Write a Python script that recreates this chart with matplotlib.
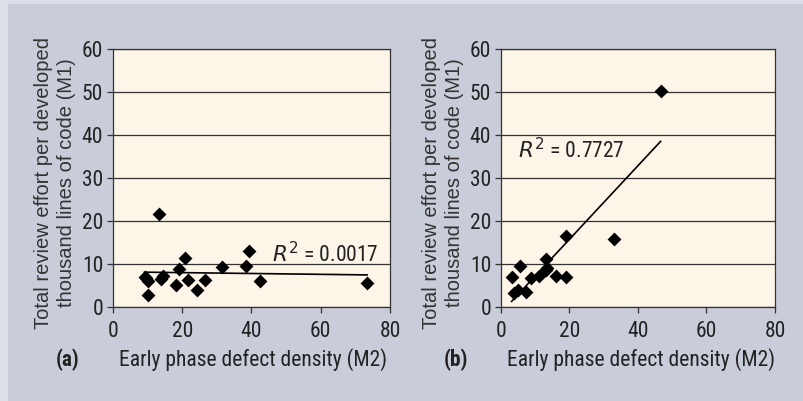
import numpy as np
import matplotlib
matplotlib.use("Agg")
import matplotlib.pyplot as plt
from matplotlib import font_manager
from matplotlib.patches import Rectangle

# (a) all projects
m2_a = [13.4, 39.2, 20.7, 19.2, 31.5, 38.5, 9.1, 10.1, 14.4, 13.75, 18.3, 21.7, 26.5, 24.2, 10.1, 42.5, 73.4, 9.6]
m1_a = [21.6, 13.0, 11.4, 8.8, 9.2, 9.5, 7.0, 6.1, 7.3, 6.5, 5.1, 6.25, 6.25, 4.0, 2.8, 6.0, 5.5, 6.8]
r2_a = "0.0017"

# (b)
m2_b = [46.6, 33.1, 19.1, 13.1, 13.1, 13.5, 11.0, 8.9, 16.2, 19.1, 3.1, 5.5, 7.3, 5.1, 3.8]
m1_b = [50.3, 15.9, 16.4, 11.2, 8.7, 9.0, 7.1, 6.7, 7.1, 7.0, 7.0, 9.5, 3.6, 4.0, 3.3]
r2_b = "0.7727"

xticks = [0, 20, 40, 60, 80]
yticks = [0, 10, 20, 30, 40, 50, 60]

bg = "#c9cdd9"
panel = "#fdf5e8"
ylab = "Total review effort per developed\nthousand lines of code (M1)"
xlab = "Early phase defect density (M2)"

names = {f.name for f in font_manager.fontManager.ttflist}
cands = [n for n in ["Liberation Sans Narrow", "Roboto Condensed", "Open Sans Condensed",
                     "DejaVu Sans Condensed", "Liberation Sans"] if n in names]
narrow = cands[:1] + ["DejaVu Sans"]

fig = plt.figure(figsize=(8.04, 4.01), dpi=100, facecolor="#dcdfe7")
W, H = 804, 401
fig.patches.append(Rectangle((8 / W, 0), 1, 1 - 4 / H, transform=fig.transFigure,
                             facecolor=bg, edgecolor="none", zorder=-10))


def make_ax(x0, x1, y0, y1):
    return fig.add_axes([x0 / W, 1 - y1 / H, (x1 - x0) / W, (y1 - y0) / H])


def draw(ax, x, y, r2, r2_pos, tag, tag_x, ylab_x):
    ax.set_facecolor(panel)
    ax.set_xlim(0, 80)
    ax.set_ylim(0, 60)
    ax.set_xticks(xticks)
    ax.set_yticks(yticks)
    ax.yaxis.grid(True, color="#333333", linewidth=0.9)
    ax.set_axisbelow(True)
    for s in ax.spines.values():
        s.set_color("#333333")
        s.set_linewidth(0.9)
    ax.tick_params(length=4, width=0.9, color="#333333", labelsize=15.5, pad=3)
    ax.tick_params(axis="x", pad=6)
    for lab in ax.get_xticklabels() + ax.get_yticklabels():
        lab.set_family(narrow)
        lab.set_color("#222222")
    # trend line
    k, b = np.polyfit(x, y, 1)
    xs = np.array([min(x), max(x)])
    ax.plot(xs, k * xs + b, color="black", linewidth=1.2, zorder=2)
    ax.scatter(x, y, marker="D", s=50, color="black", zorder=3, linewidths=0)
    ax.text(r2_pos[0], r2_pos[1], "$\\it{R}^2$ = " + r2, fontsize=15.5, family=narrow,
            color="#222222")
    fig.text(ylab_x / W, 1 - 183 / H, ylab, fontsize=14.5, family=["Liberation Sans", "DejaVu Sans"],
             color="#333333", rotation=90, ha="center", va="center", linespacing=1.3)
    fig.text(tag_x / W, 1 - 360 / H, tag, fontsize=15.5, family=narrow,
             fontweight="bold", color="#222222", va="center", ha="center")
    fig.text((tag_x + 185) / W, 1 - 360 / H, xlab, fontsize=15.5, family=narrow,
             color="#222222", va="center", ha="center")


ax1 = make_ax(113, 390, 49, 307)
draw(ax1, m2_a, m1_a, r2_a, (46.0, 10.4), "(a)", 68, 55)
ax2 = make_ax(501, 775, 49, 307)
draw(ax2, m2_b, m1_b, r2_b, (5.0, 34.5), "(b)", 456, 443)

fig.savefig("out.png", dpi=100, facecolor=fig.get_facecolor())
